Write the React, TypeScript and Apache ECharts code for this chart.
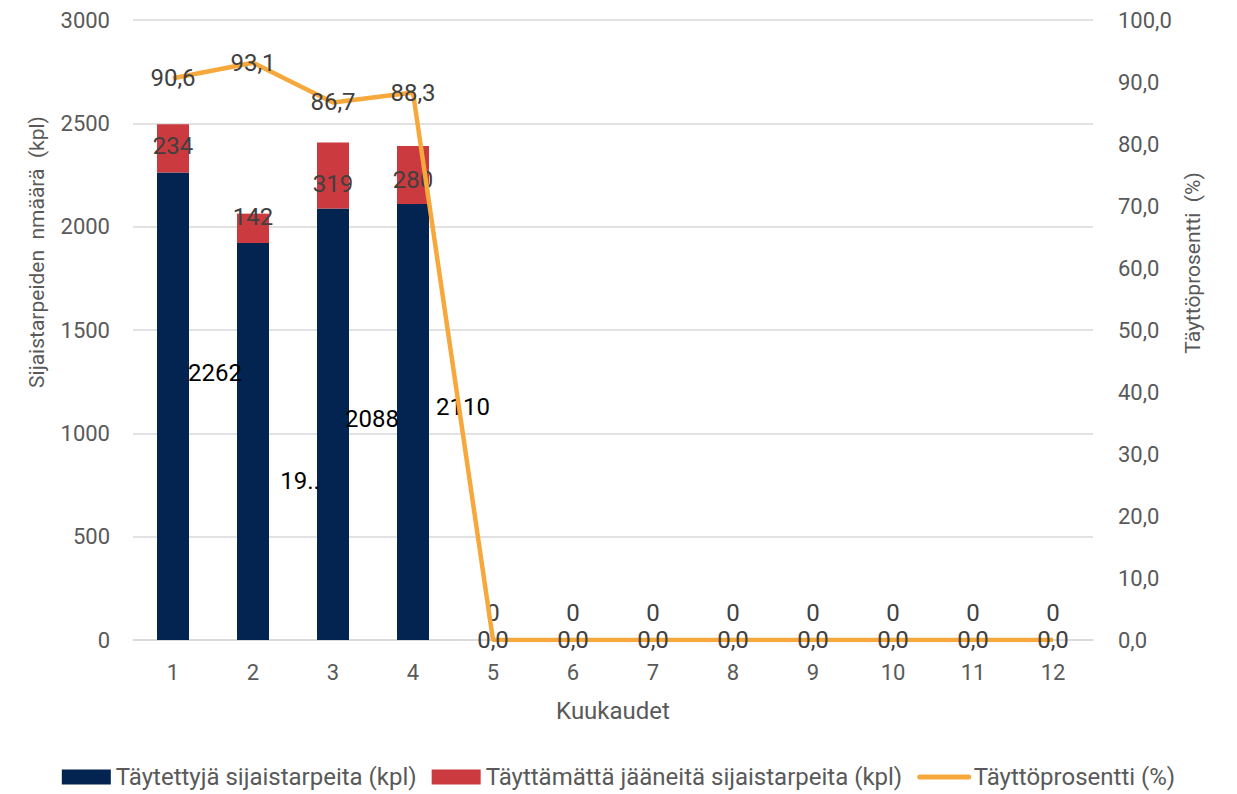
import React, { useEffect, useRef } from "react";
import * as echarts from "echarts";

const months = ["1", "2", "3", "4", "5", "6", "7", "8", "9", "10", "11", "12"];
const filled = [2262, 1921, 2088, 2110, 0, 0, 0, 0, 0, 0, 0, 0];
const filledLabels = ["2262", "19..", "2088", "2110", "", "", "", "", "", "", "", ""];
const unfilled = [234, 142, 319, 280, 0, 0, 0, 0, 0, 0, 0, 0];
const fillRate = [90.6, 93.1, 86.7, 88.3, 0, 0, 0, 0, 0, 0, 0, 0];

const leftTicks = [0, 500, 1000, 1500, 2000, 2500, 3000];
const rightTicks = [0, 10, 20, 30, 40, 50, 60, 70, 80, 90, 100];

// label nudges (styling only)
const filledLabelOffsets = [[42, -33], [47, 40], [39, -5], [50, -15]];
const unfilledLabelOffsets = [[0, -2], [0, -11], [0, 8], [0, 5]];

const NAVY = "#032451";
const RED = "#CB3A3F";
const ORANGE = "#F7A83C";
const GREY = "#595959";
const FONT = "Roboto";
const AXIS_FS = 21;
const LABEL_FS = 24;

export default function App() {
  const ref = useRef<HTMLDivElement>(null);

  useEffect(() => {
    if (!ref.current) return;
    const chart = echarts.init(ref.current, undefined, { renderer: "svg" });
    const fmt = (v: number) => v.toFixed(1).replace(".", ",");

    const filledData = filled.map((v, i) => ({
      value: v,
      label: {
        show: filledLabels[i] !== "",
        formatter: filledLabels[i],
        offset: filledLabelOffsets[i] || [0, 0],
      },
    }));
    const unfilledData = unfilled.map((v, i) => ({
      value: v,
      label: {
        show: true,
        offset: unfilledLabelOffsets[i] || [0, -27],
      },
    }));

    chart.setOption({
      animation: false,
      textStyle: { fontFamily: FONT },
      grid: { left: 133, right: 144, top: 20, bottom: 154, containLabel: false },
      legend: {
        bottom: 0,
        left: "center",
        itemWidth: 49,
        itemHeight: 15,
        itemGap: 15,
        textStyle: { color: GREY, fontSize: 24, fontFamily: FONT },
        data: [
          { name: "Täytettyjä sijaistarpeita (kpl)", icon: "rect" },
          { name: "Täyttämättä jääneitä sijaistarpeita (kpl)", icon: "rect" },
          { name: "Täyttöprosentti (%)", itemStyle: { opacity: 0 }, lineStyle: { width: 5, cap: "round" } },
        ],
      },
      xAxis: {
        type: "category",
        data: months,
        name: "Kuukaudet",
        nameLocation: "middle",
        nameGap: 59,
        nameTextStyle: { color: GREY, fontSize: 24, fontFamily: FONT },
        axisLine: { lineStyle: { color: "#D9D9D9", width: 1.5 } },
        axisTick: { show: false },
        axisLabel: { color: GREY, fontSize: 22, margin: 21, fontFamily: FONT },
      },
      yAxis: [
        {
          type: "value",
          min: leftTicks[0],
          max: leftTicks[leftTicks.length - 1],
          interval: 500,
          axisLine: { show: false },
          axisTick: { show: false },
          axisLabel: {
            color: GREY,
            fontSize: 22,
            margin: 23,
            fontFamily: FONT,
            formatter: (v: number) => String(v),
          },
          splitLine: { lineStyle: { color: "#D9D9D9", width: 1.5 } },
        },
        {
          type: "value",
          min: rightTicks[0],
          max: rightTicks[rightTicks.length - 1],
          interval: 10,
          axisLine: { show: false },
          axisTick: { show: false },
          splitLine: { show: false },
          axisLabel: {
            color: GREY,
            fontSize: 22,
            margin: 25,
            fontFamily: FONT,
            formatter: (v: number) => fmt(v),
          },
        },
      ],
      graphic: [
        {
          type: "text",
          x: 37,
          y: 252,
          rotation: Math.PI / 2,
          style: {
            text: "Sijaistarpeiden  nmäärä  (kpl)",
            fill: GREY,
            fontSize: AXIS_FS,
            fontFamily: FONT,
            align: "center",
            verticalAlign: "middle",
          },
        },
        {
          type: "text",
          x: 1193,
          y: 263,
          rotation: Math.PI / 2,
          style: {
            text: "Täyttöprosentti  (%)",
            fill: GREY,
            fontSize: AXIS_FS,
            fontFamily: FONT,
            align: "center",
            verticalAlign: "middle",
          },
        },
      ],
      series: [
        {
          name: "Täytettyjä sijaistarpeita (kpl)",
          type: "bar",
          stack: "total",
          barWidth: 32,
          itemStyle: { color: NAVY },
          label: {
            show: true,
            position: "inside",
            color: "#000000",
            fontSize: LABEL_FS,
            fontFamily: FONT,
          },
          data: filledData,
        },
        {
          name: "Täyttämättä jääneitä sijaistarpeita (kpl)",
          type: "bar",
          stack: "total",
          barWidth: 32,
          itemStyle: { color: RED },
          label: {
            show: true,
            position: "inside",
            color: "#404040",
            fontSize: LABEL_FS,
            fontFamily: FONT,
          },
          data: unfilledData,
        },
        {
          name: "Täyttöprosentti (%)",
          type: "line",
          yAxisIndex: 1,
          symbol: "circle",
          symbolSize: 1,
          itemStyle: { color: ORANGE },
          lineStyle: { color: ORANGE, width: 4.5 },
          label: {
            show: true,
            position: "inside",
            color: "#404040",
            fontSize: LABEL_FS,
            fontFamily: FONT,
            formatter: (p: any) => fmt(p.value),
          },
          data: fillRate,
          z: 3,
        },
      ],
    });
    return () => chart.dispose();
  }, []);

  return <div ref={ref} style={{ width: 1237, height: 794, position: "absolute", left: 0, top: 0, background: "#fff" }} />;
}
